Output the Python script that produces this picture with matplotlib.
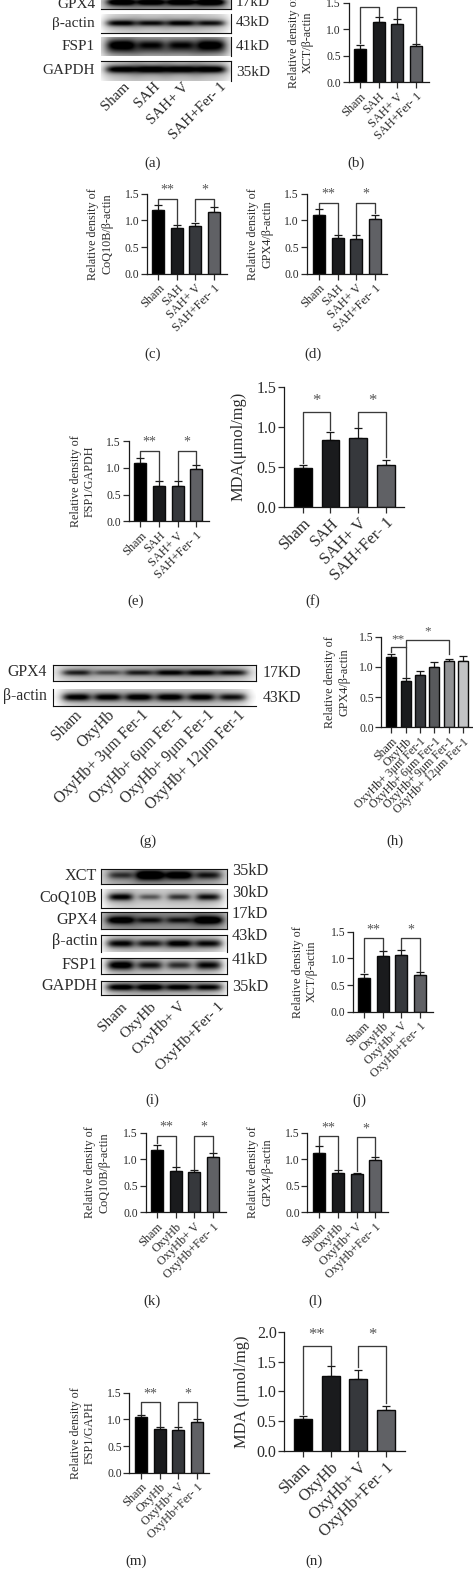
import matplotlib
matplotlib.use("Agg")
import matplotlib.pyplot as plt
import numpy as np

W = 473
H = 1569

plt.rcParams['font.family'] = ['Liberation Serif', 'DejaVu Sans']
plt.rcParams['text.color'] = '#2b2b2b'
plt.rcParams['axes.labelcolor'] = '#2b2b2b'
plt.rcParams['xtick.color'] = '#2b2b2b'
plt.rcParams['ytick.color'] = '#2b2b2b'

# gruppi
sah_groups = ["Sham", "SAH", "SAH+ V", "SAH+Fer- 1"]
oxy_groups = ["Sham", "OxyHb", "OxyHb+ V", "OxyHb+Fer- 1"]
dose_groups = ["Sham", "OxyHb", "OxyHb+ 3μm Fer-1", "OxyHb+ 6μm Fer-1",
               "OxyHb+ 9μm Fer-1", "OxyHb+ 12μm Fer-1"]

ticks_15 = [0.0, 0.5, 1.0, 1.5]
ticks_20 = [0.0, 0.5, 1.0, 1.5, 2.0]

# valori delle barre e cima delle barre di errore
b_val = [0.62, 1.13, 1.10, 0.68]
b_top = [0.71, 1.23, 1.20, 0.73]
c_val = [1.20, 0.86, 0.90, 1.15]
c_top = [1.28, 0.91, 0.96, 1.25]
d_val = [1.10, 0.67, 0.66, 1.03]
d_top = [1.22, 0.72, 0.73, 1.11]
e_val = [1.10, 0.67, 0.67, 0.98]
e_top = [1.19, 0.76, 0.75, 1.05]
f_val = [0.49, 0.83, 0.86, 0.52]
f_top = [0.52, 0.94, 0.98, 0.58]
h_val = [1.16, 0.76, 0.87, 1.00, 1.09, 1.10]
h_top = [1.22, 0.82, 0.93, 1.08, 1.13, 1.18]
j_val = [0.63, 1.05, 1.07, 0.69]
j_top = [0.71, 1.13, 1.15, 0.75]
k_val = [1.18, 0.78, 0.76, 1.05]
k_top = [1.27, 0.86, 0.80, 1.11]
l_val = [1.12, 0.75, 0.72, 0.98]
l_top = [1.24, 0.79, 0.75, 1.04]
m_val = [1.04, 0.82, 0.81, 0.95]
m_top = [1.08, 0.86, 0.85, 1.00]
n_val = [0.54, 1.25, 1.20, 0.69]
n_top = [0.58, 1.42, 1.36, 0.76]

# parentesi: (da, a, altezza, piede sinistro, piede destro, stelle)
b_sig = [(0, 1, 1.425, 0.75, 1.25, ""), (2, 3, 1.425, 1.22, 0.75, "")]
c_sig = [(0, 1, 1.41, 1.31, 0.93, "**"), (2, 3, 1.41, 0.98, 1.27, "*")]
d_sig = [(0, 1, 1.33, 1.24, 0.74, "**"), (2, 3, 1.33, 0.75, 1.13, "*")]
e_sig = [(0, 1, 1.32, 1.20, 0.77, "**"), (2, 3, 1.32, 0.77, 1.07, "*")]
f_sig = [(0, 1, 1.19, 0.55, 0.96, "*"), (2, 3, 1.19, 1.00, 0.62, "*")]
h_sig = [(0, 1, 1.325, 1.24, 0.84, "**"), (1, 4, 1.447, 1.325, 1.22, "*")]
j_sig = [(0, 1, 1.375, 0.75, 1.15, "**"), (2, 3, 1.375, 1.17, 0.77, "*")]
k_sig = [(0, 1, 1.44, 1.30, 0.88, "**"), (2, 3, 1.44, 0.82, 1.13, "*")]
l_sig = [(0, 1, 1.43, 1.26, 0.81, "**"), (2, 3, 1.41, 0.77, 1.06, "*")]
m_sig = [(0, 1, 1.32, 1.10, 0.88, "**"), (2, 3, 1.32, 0.87, 1.02, "*")]
n_sig = [(0, 1, 1.76, 0.62, 1.45, "**"), (2, 3, 1.76, 1.40, 0.80, "*")]

# intensità delle bande dei western blot
a_gpx4 = [0.85, 0.80, 0.82, 0.90]
a_actin = [0.80, 0.72, 0.78, 0.72]
a_fsp1 = [0.80, 0.62, 0.62, 0.78]
a_gapdh = [0.85, 0.90, 0.88, 0.88]
g_gpx4 = [0.62, 0.42, 0.60, 0.72, 0.74, 0.68]
g_actin = [0.85, 0.82, 0.85, 0.85, 0.82, 0.75]
i_xct = [0.45, 0.92, 0.78, 0.55]
i_coq = [0.80, 0.42, 0.55, 0.72]
i_gpx4 = [0.72, 0.50, 0.48, 0.82]
i_actin = [0.78, 0.68, 0.80, 0.75]
i_fsp1 = [0.88, 0.68, 0.58, 0.75]
i_gapdh = [0.82, 0.85, 0.78, 0.75]

bar_colors = ['#000000', '#1a1b1d', '#36383c', '#606165']
dose_colors = ['#000000', '#1a1b1d', '#36383c', '#58595c', '#909193', '#c2c3c5']

fig = plt.figure(figsize=(W / 100, H / 100), dpi=100)
fig.patch.set_facecolor('white')


def pixel_axes(x0, y0, x1, y1):
    # assi dati in pixel dell'immagine (y verso il basso)
    return fig.add_axes([x0 / W, 1 - y1 / H, (x1 - x0) / W, (y1 - y0) / H])


def pixel_text(x, y, s, **kw):
    fig.text(x / W, 1 - y / H, s, **kw)


def bar_panel(groups, val, top, sig, ticks, ylabel, colors, spine, first, step, right, y0, ytop,
              tick_fs=8.4, x_fs=8.8, y_fs=8.7, star_fs=10, star_off=1.5, width=0.64, label_x=None):
    ax = pixel_axes(spine, ytop, right, y0)
    ax.patch.set_alpha(0)
    x = np.arange(len(val))
    ax.set_xlim((spine - first) / step, (right - first) / step)
    ax.set_ylim(0, ticks[-1])
    val = np.array(val)
    top = np.array(top)
    ax.bar(x, val, width=width, color=colors, edgecolor='#0a0a0a', linewidth=1.0, zorder=2)
    ax.errorbar(x, val, yerr=[np.zeros(len(val)), top - val], fmt='none', ecolor='#1a1a1a',
                elinewidth=0.9, capsize=3.0, capthick=0.9, zorder=1)
    for da, a, alto, pl, pr, stelle in sig:
        ax.plot([da, da, a, a], [pl, alto, alto, pr], color='#3a3a3a', lw=0.95, clip_on=False, zorder=3)
        if stelle:
            ax.annotate(stelle, ((da + a) / 2, alto), xytext=(0, star_off), textcoords='offset points',
                        ha='center', va='bottom', fontsize=star_fs, color='#555555', annotation_clip=False)
    for s in ['top', 'right']:
        ax.spines[s].set_visible(False)
    for s in ['left', 'bottom']:
        ax.spines[s].set_linewidth(0.9)
        ax.spines[s].set_color('#1a1a1a')
    ax.set_yticks(ticks)
    ax.set_yticklabels([f'{t:.1f}' for t in ticks], fontsize=tick_fs)
    ax.set_xticks(x)
    ax.set_xticklabels(groups, rotation=45, ha='right', va='top', rotation_mode='anchor', fontsize=x_fs)
    ax.tick_params(axis='both', length=4, width=0.9, pad=2)
    ax.tick_params(axis='y', pad=1.5)
    lx = (spine - 33) if label_x is None else label_x
    pixel_text(lx, (y0 + ytop) / 2, ylabel, rotation=90, ha='center', va='center', fontsize=y_fs,
               linespacing=1.25, multialignment='center')
    return ax


def blot(x0, y0, x1, y1, bands, bg=0.75, band_y=0.5, band_h=0.17, band_w=0.42, sides='lrtb', smear=0.0):
    # la striscia del blot: immagine in scala di grigi con una banda per corsia
    ax = pixel_axes(x0, y0, x1, y1)
    h = max(int(y1 - y0) * 4, 8)
    w = int(x1 - x0) * 4
    yy, xx = np.mgrid[0:h, 0:w]
    xx = (xx + 0.5) / w
    yy = (yy + 0.5) / h
    n = len(bands)
    # fondo che schiarisce verso i bordi
    img = bg + 0.10 * np.abs(yy - band_y) + 0.18 * (np.abs(xx - 0.5) * 2) ** 6
    margin = 0.04
    for i, amp in enumerate(bands):
        xc = margin + (i + 0.5) * (1 - 2 * margin) / n
        half = band_w * (1 - 2 * margin) / n * (0.85 + 0.3 * amp)
        hh = band_h * (0.65 + 0.6 * amp)
        core = np.exp(-((xx - xc) / half) ** 4) * np.exp(-((yy - band_y) / hh) ** 2)
        halo = np.exp(-((xx - xc) / (half * 1.3)) ** 4) * np.exp(-((yy - band_y) / (hh * 2.4)) ** 2)
        img = img - amp * core * 0.85 - 0.22 * amp * halo
        if smear:
            tail = np.exp(-((xx - xc) / (half * 1.2)) ** 4) * np.exp(-((yy - band_y - 0.3) / 0.22) ** 2)
            img = img - smear * tail
    ax.imshow(np.clip(img, 0, 1), cmap='gray', vmin=0, vmax=1, aspect='auto', interpolation='bilinear')
    ax.set_xticks([])
    ax.set_yticks([])
    nomi = {'l': 'left', 'r': 'right', 't': 'top', 'b': 'bottom'}
    for k, nome in nomi.items():
        ax.spines[nome].set_visible(k in sides)
        ax.spines[nome].set_linewidth(0.8)
        ax.spines[nome].set_color('#111111')
    return ax


def caption(x, y, s):
    pixel_text(x, y, s, ha='center', va='center', fontsize=10.8)


def blot_labels(names, ys, x, sizes, ys2, x2, fs):
    for name, y in zip(names, ys):
        pixel_text(x, y, name, ha='right', va='center', fontsize=fs)
    for size, y in zip(sizes, ys2):
        pixel_text(x2, y, size, ha='left', va='center', fontsize=fs)


def lane_labels(groups, xs, y, fs):
    for g, x in zip(groups, xs):
        pixel_text(x, y, g, rotation=45, ha='right', va='top', rotation_mode='anchor', fontsize=fs)


# pannello (a)
blot(101, -10, 230.7, 9.3, a_gpx4, bg=0.62, band_y=0.66, band_h=0.14, sides='rb')
blot(101, 14, 230.7, 32.7, a_actin, bg=0.78, band_y=0.48, band_h=0.14, band_w=0.44, sides='rb')
blot(101, 36.7, 230.7, 56, a_fsp1, bg=0.68, band_y=0.45, band_h=0.24, band_w=0.44, sides='r', smear=0.16)
blot(101, 60.7, 230.7, 80.7, a_gapdh, bg=0.75, band_y=0.42, band_h=0.15, band_w=0.45, sides='rt')
blot_labels(["GPX4", "β-actin", "FSP1", "GAPDH"], [4, 23, 46, 70], 95,
            ["17kD", "43kD", "41kD", "35kD"], [2, 23, 46, 72], 236, 11.0)
lane_labels(["Sham", "SAH", "SAH+ V", "SAH+Fer- 1"], [123, 153, 182, 220], 80, 10.8)
caption(153, 163, "(a)")

bar_panel(sah_groups, b_val, b_top, b_sig, ticks_15, "Relative density of\nXCT/β-actin", bar_colors,
          348.7, 360, 18.67, 428.5, 82.3, 2.7, label_x=301)
caption(356, 163, "(b)")

# pannelli (c) (d)
bar_panel(sah_groups, c_val, c_top, c_sig, ticks_15, "Relative density of\nCoQ10B/β-actin", bar_colors,
          147, 158.3, 18.5, 226.7, 273.7, 193.7, label_x=100)
caption(153, 354, "(c)")
bar_panel(sah_groups, d_val, d_top, d_sig, ticks_15, "Relative density of\nGPX4/β-actin", bar_colors,
          306.7, 319, 18.6, 387.3, 273.7, 193.7, label_x=260)
caption(313, 354, "(d)")

# pannelli (e) (f)
bar_panel(sah_groups, e_val, e_top, e_sig, ticks_15, "Relative density of\nFSP1/GAPDH", bar_colors,
          128.7, 140.3, 18.67, 209.3, 521.3, 441.3, label_x=83)
caption(136, 601, "(e)")
bar_panel(sah_groups, f_val, f_top, f_sig, ticks_15, "MDA(μmol/mg)", bar_colors,
          284, 302.7, 27.67, 404, 506.7, 386.7, tick_fs=11.5, x_fs=11.9, y_fs=11.8, star_fs=12,
          star_off=2, label_x=238)
caption(313, 601, "(f)")

# pannello (g)
blot(52.7, 665, 255.7, 680.7, g_gpx4, bg=0.72, band_y=0.48, band_h=0.17, band_w=0.44)
blot(52.7, 689.3, 255.7, 705.7, g_actin, bg=0.80, band_y=0.48, band_h=0.19, band_w=0.40, sides='lb')
blot_labels(["GPX4", "β-actin"], [672, 696], 47, ["17KD", "43KD"], [673, 698], 263, 11.3)
lane_labels(dose_groups, [74, 107, 141, 176, 207, 237], 707, 11.3)
caption(148, 841, "(g)")

bar_panel(dose_groups, h_val, h_top, h_sig, ticks_15, "Relative density of\nGPX4/β-actin", dose_colors,
          381.3, 391.3, 14.35, 472.3, 727.3, 636.7, x_fs=8.6, star_fs=9.5, width=0.68, label_x=337)
caption(395, 841, "(h)")

# pannello (i)
blot(101.3, 868.7, 227.3, 884.3, i_xct, bg=0.62, band_y=0.45, band_h=0.24, band_w=0.42)
blot(101.3, 889.3, 227.3, 908.3, i_coq, bg=0.78, band_y=0.42, band_h=0.16, band_w=0.38, sides='lrb')
blot(101.3, 912.3, 227.3, 929.3, i_gpx4, bg=0.55, band_y=0.48, band_h=0.20, band_w=0.44)
blot(101.3, 935.3, 227.3, 951.7, i_actin, bg=0.78, band_y=0.50, band_h=0.20, band_w=0.42, sides='lrt')
blot(101.3, 958.3, 227.3, 974, i_fsp1, bg=0.78, band_y=0.45, band_h=0.24, band_w=0.40)
blot(101.3, 980.7, 227.3, 995.3, i_gapdh, bg=0.75, band_y=0.48, band_h=0.20, band_w=0.42)
blot_labels(["XCT", "CoQ10B", "GPX4", "β-actin", "FSP1", "GAPDH"],
            [876, 897, 920, 941, 965, 986], 97,
            ["35kD", "30kD", "17kD", "43kD", "41kD", "35kD"],
            [871, 893, 914, 936, 960, 987], 232, 11.7)
lane_labels(oxy_groups, [121, 150, 179, 218], 1000, 11.0)
caption(152, 1100, "(i)")

bar_panel(oxy_groups, j_val, j_top, j_sig, ticks_15, "Relative density of\nXCT/β-actin", bar_colors,
          353, 364, 18.67, 432.7, 1011.7, 931.7, label_x=305)
caption(359, 1100, "(j)")

# pannelli (k) (l)
bar_panel(oxy_groups, k_val, k_top, k_sig, ticks_15, "Relative density of\nCoQ10B/β-actin", bar_colors,
          145.7, 157, 18.57, 225.7, 1212.3, 1132.7, label_x=97)
caption(152, 1301, "(k)")
bar_panel(oxy_groups, l_val, l_top, l_sig, ticks_15, "Relative density of\nGPX4/β-actin", bar_colors,
          307.3, 319.3, 18.67, 388.3, 1212.3, 1132.7, label_x=260)
caption(315, 1301, "(l)")

# pannelli (m) (n)
bar_panel(oxy_groups, m_val, m_top, m_sig, ticks_15, "Relative density of\nFSP1/GAPH", bar_colors,
          129.3, 141, 18.67, 209.3, 1472.7, 1392.7, label_x=83)
caption(136, 1561, "(m)")
bar_panel(oxy_groups, n_val, n_top, n_sig, ticks_20, "MDA (μmol/mg)", bar_colors,
          284.3, 303, 27.67, 404.7, 1451, 1331.7, tick_fs=11.5, x_fs=11.9, y_fs=11.8, star_fs=12,
          star_off=2, label_x=242)
caption(314, 1561, "(n)")

fig.savefig('out.png', dpi=100, facecolor='white')
